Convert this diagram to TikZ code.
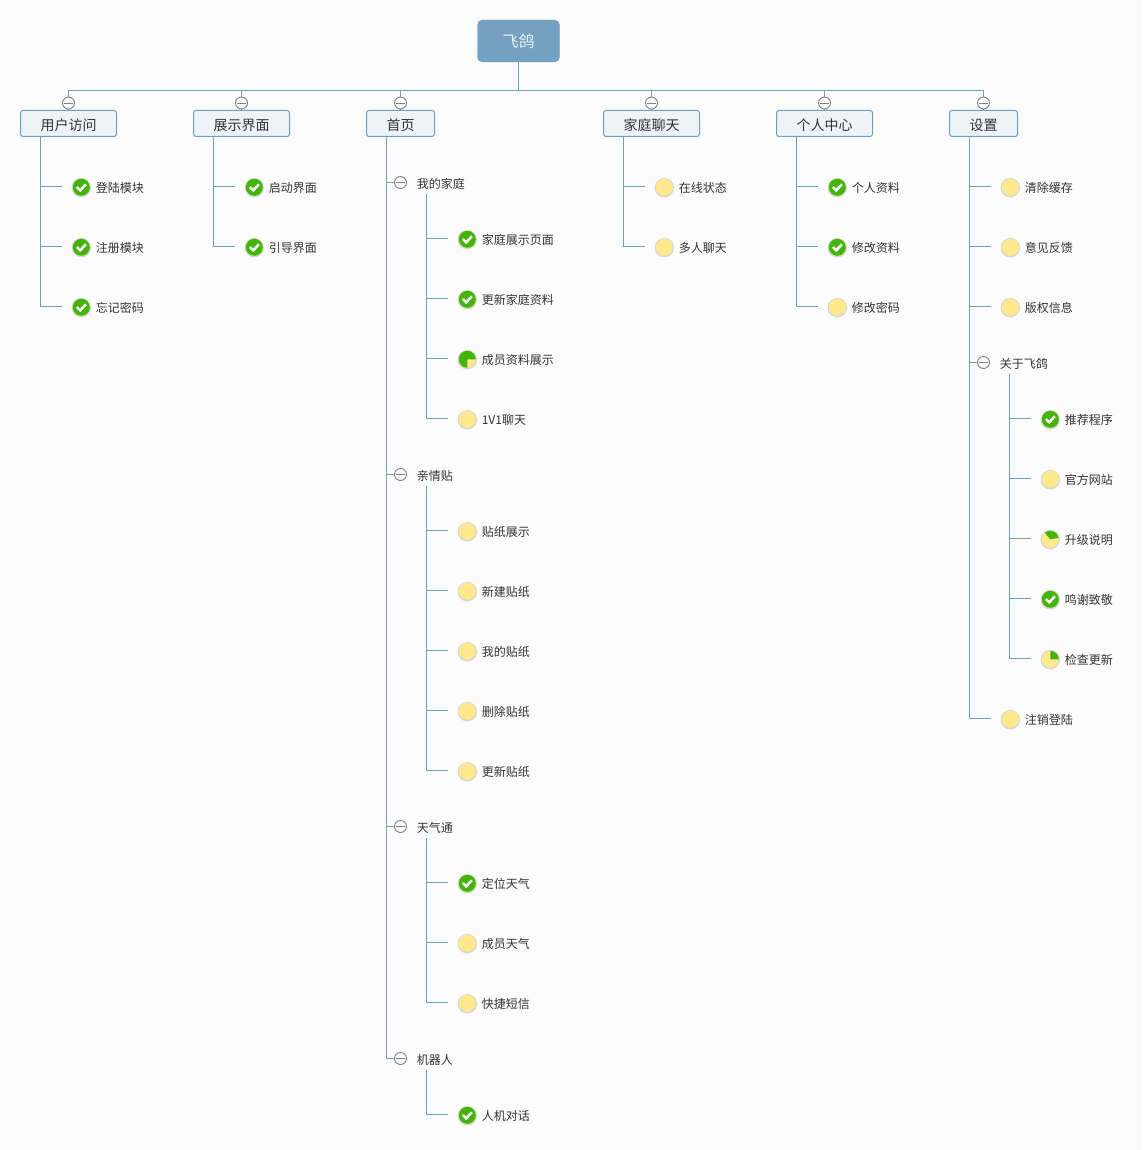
\documentclass[tikz,border=0pt]{standalone}
\usepackage{fontspec}
\setmainfont{Noto Sans CJK SC}
\definecolor{bg}{HTML}{FCFCFC}
\definecolor{ln}{HTML}{6E9FC2}
\definecolor{rootf}{HTML}{73A1BF}
\definecolor{topf}{HTML}{EEF3F7}
\definecolor{grn}{HTML}{43B40A}
\definecolor{yel}{HTML}{FFE98A}
\definecolor{txt}{HTML}{333333}
\definecolor{shad}{HTML}{D6D6D6}
\tikzset{
  conn/.style={draw=ln,line width=1pt},
  rootbox/.style={draw=rootf,fill=rootf,rounded corners=5pt,minimum width=82pt,minimum height=42pt,inner sep=0pt,text=white!85!rootf,font=\fontsize{16}{18}\selectfont},
  topbox/.style={draw=ln,fill=topf,rounded corners=2.5pt,line width=1pt,minimum height=26pt,inner sep=0pt,text=txt,text height=14pt,text depth=0pt,font=\fontsize{14}{16}\selectfont},
  subtext/.style={anchor=west,inner sep=0pt,minimum height=20pt,text=txt,font=\fontsize{12}{14}\selectfont},
  leaftext/.style={anchor=west,inner sep=0pt,text=txt,font=\fontsize{12}{14}\selectfont},
  foldc/.style={circle,draw=black!50,fill=bg,line width=0.9pt,minimum size=12pt,inner sep=0pt},
  iconc/.style={circle,fill=yel,minimum size=17pt,inner sep=0pt},
}
% name, x, y, text : yellow task icon and its label
\newcommand\leafnode[4]{%
  \fill[shad] (#2+0.3,#3+0.7) circle[radius=9.7pt];
  \node[iconc] (#1) at (#2+0.3,#3+0.3) {};
  \node[leaftext] (#1t) at (#2+14.6,#3+1) {#4};}
\newcommand\doneicon[1]{%
  \fill[grn] (#1.center) circle[radius=8.5pt];
  \draw[white,line width=2.5pt] ([shift={(-4.4pt,0.3pt)}]#1.center) -- ([shift={(-1pt,-3pt)}]#1.center) -- ([shift={(4.6pt,3pt)}]#1.center);}
\newcommand\particon[3]{%
  \fill[grn] (#1.center) -- ++(#2:8.5pt) arc[start angle=#2,end angle=#3,radius=8.5pt] -- cycle;}
\newcommand\foldminus[1]{\draw[black!50,line width=0.9pt] ([xshift=2pt]#1.west) -- ([xshift=-2pt]#1.east);}
% name, x, y
\newcommand\foldnode[3]{%
  \node[foldc] (#1) at (#2,#3) {};
  \foldminus{#1}}
\begin{document}
\begin{tikzpicture}[x=1pt,y=-1pt]
\useasboundingbox (0,0) rectangle (1143,1150);
\fill[bg] (0,0) rectangle (1143,1150);
\node[rootbox] (root) at (518.5,41) {飞鸽};
\node[topbox,minimum width=96pt] (t1) at (68.5,123.5) {用户访问};
\node[topbox,minimum width=96pt] (t2) at (241.5,123.5) {展示界面};
\node[topbox,minimum width=68pt] (t3) at (400.5,123.5) {首页};
\node[topbox,minimum width=96pt] (t4) at (651.5,123.5) {家庭聊天};
\node[topbox,minimum width=96pt] (t5) at (824.5,123.5) {个人中心};
\node[topbox,minimum width=68pt] (t6) at (983.5,123.5) {设置};
\coordinate (bar) at (518.5,90.5);
\draw[conn] (root.south) -- (bar);
\foreach \t in {t1,t2,t3,t4,t5,t6}{
  \draw[conn] (bar) -| (\t.north);
}
\foreach \t/\f in {t1/f1,t2/f2,t3/f3,t4/f4,t5/f5,t6/f6}{
  \path (\t.north) ++(0pt,7pt) coordinate (\f p);
  \node[foldc] (\f) at (\f p) {};
  \foldminus{\f}
}
% column 1
\leafnode{a1}{81}{187}{登陆模块}\doneicon{a1}
\leafnode{a2}{81}{247}{注册模块}\doneicon{a2}
\leafnode{a3}{81}{307}{忘记密码}\doneicon{a3}
\foreach \n in {a1,a2,a3}{\draw[conn] ([xshift=20pt]t1.south west) |- ([shift={(-11pt,0.8pt)}]\n.west);}
% column 2
\leafnode{b1}{254}{187}{启动界面}\doneicon{b1}
\leafnode{b2}{254}{247}{引导界面}\doneicon{b2}
\foreach \n in {b1,b2}{\draw[conn] ([xshift=20pt]t2.south west) |- ([shift={(-11pt,0.8pt)}]\n.west);}
% column 3
\foldnode{c1}{400.5}{182.5}
\node[subtext] (c1t) at (416.6,183.5) {我的家庭};
\foldnode{c2}{400.5}{474.5}
\node[subtext] (c2t) at (416.6,475.5) {亲情贴};
\foldnode{c3}{400.5}{826.5}
\node[subtext] (c3t) at (416.6,827.5) {天气通};
\foldnode{c4}{400.5}{1058.5}
\node[subtext] (c4t) at (416.6,1059.5) {机器人};
\foreach \n in {c1,c2,c3,c4}{\draw[conn] ([xshift=20pt]t3.south west) |- (\n.west);}
\leafnode{d1}{467}{239}{家庭展示页面}\doneicon{d1}
\leafnode{d2}{467}{299}{更新家庭资料}\doneicon{d2}
\leafnode{d3}{467}{359}{成员资料展示}\particon{d3}{0}{270}
\leafnode{d4}{467}{419}{1V1聊天}
\foreach \n in {d1,d2,d3,d4}{\draw[conn] ([xshift=9.4pt]c1t.south west) |- ([shift={(-11pt,0.8pt)}]\n.west);}
\leafnode{e1}{467}{531}{贴纸展示}
\leafnode{e2}{467}{591}{新建贴纸}
\leafnode{e3}{467}{651}{我的贴纸}
\leafnode{e4}{467}{711}{删除贴纸}
\leafnode{e5}{467}{771}{更新贴纸}
\foreach \n in {e1,e2,e3,e4,e5}{\draw[conn] ([xshift=9.4pt]c2t.south west) |- ([shift={(-11pt,0.8pt)}]\n.west);}
\leafnode{g1}{467}{883}{定位天气}\doneicon{g1}
\leafnode{g2}{467}{943}{成员天气}
\leafnode{g3}{467}{1003}{快捷短信}
\foreach \n in {g1,g2,g3}{\draw[conn] ([xshift=9.4pt]c3t.south west) |- ([shift={(-11pt,0.8pt)}]\n.west);}
\leafnode{h1}{467}{1115}{人机对话}\doneicon{h1}
\draw[conn] ([xshift=9.4pt]c4t.south west) |- ([shift={(-11pt,0.8pt)}]h1.west);
% column 4
\leafnode{i1}{664}{187}{在线状态}
\leafnode{i2}{664}{247}{多人聊天}
\foreach \n in {i1,i2}{\draw[conn] ([xshift=20pt]t4.south west) |- ([shift={(-11pt,0.8pt)}]\n.west);}
% column 5
\leafnode{j1}{837}{187}{个人资料}\doneicon{j1}
\leafnode{j2}{837}{247}{修改资料}\doneicon{j2}
\leafnode{j3}{837}{307}{修改密码}
\foreach \n in {j1,j2,j3}{\draw[conn] ([xshift=20pt]t5.south west) |- ([shift={(-11pt,0.8pt)}]\n.west);}
% column 6
\leafnode{k1}{1010}{187}{清除缓存}
\leafnode{k2}{1010}{247}{意见反馈}
\leafnode{k3}{1010}{307}{版权信息}
\leafnode{k5}{1010}{719}{注销登陆}
\foldnode{k4}{983.5}{362.5}
\node[subtext] (k4t) at (999.6,363.5) {关于飞鸽};
\foreach \n in {k1,k2,k3,k5}{\draw[conn] ([xshift=20pt]t6.south west) |- ([shift={(-11pt,0.8pt)}]\n.west);}
\draw[conn] ([xshift=20pt]t6.south west) |- (k4.west);
\leafnode{m1}{1050}{419}{推荐程序}\doneicon{m1}
\leafnode{m2}{1050}{479}{官方网站}
\leafnode{m3}{1050}{539}{升级说明}\particon{m3}{130}{10}
\leafnode{m4}{1050}{599}{鸣谢致敬}\doneicon{m4}
\leafnode{m5}{1050}{659}{检查更新}\particon{m5}{90}{0}
\foreach \n in {m1,m2,m3,m4,m5}{\draw[conn] ([xshift=9.4pt]k4t.south west) |- ([shift={(-11pt,0.8pt)}]\n.west);}
\end{tikzpicture}
\end{document}
